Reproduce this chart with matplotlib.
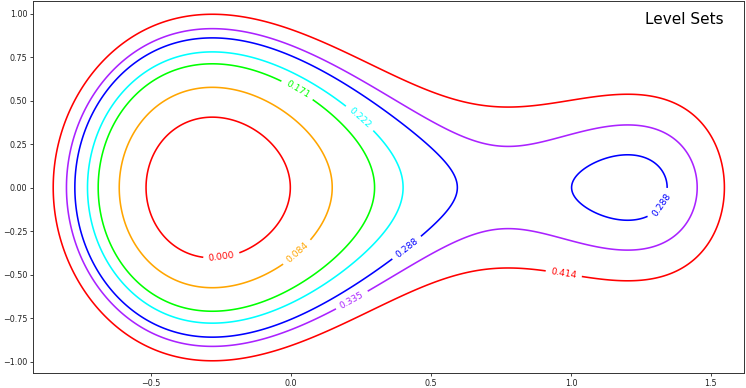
import numpy as np
import matplotlib
matplotlib.use("Agg")
import matplotlib.pyplot as plt

# Potential profile V(x) (H = y^2/2 + V(x))
v_x = [-0.849, -0.801, -0.772, -0.726, -0.688, -0.614, -0.517, -0.277, 0.000,
       0.148, 0.297, 0.398, 0.532, 0.589, 0.651, 0.776, 0.889, 1.001, 1.068,
       1.199, 1.342, 1.451, 1.548]
v_vals = [0.414, 0.335, 0.288, 0.222, 0.171, 0.084, 0.000, -0.081, 0.000,
          0.084, 0.171, 0.222, 0.271, 0.288, 0.295, 0.308, 0.303, 0.288, 0.279,
          0.270, 0.288, 0.335, 0.414]

levels = [0.000, 0.084, 0.171, 0.222, 0.288, 0.335, 0.414]
level_colors = ['red', 'orange', '#00ff00', 'cyan', 'blue', '#aa22ff', 'red']

label_pos = [(-0.248, -0.396), (0.024, -0.376), (0.024, 0.564), (0.25, 0.406),
             (0.413, -0.345), (1.325, -0.102), (0.217, -0.645), (0.975, -0.489)]

title = "Level Sets"

coef = np.polyfit(v_x, v_vals, 8)
xs = np.linspace(-0.93, 1.63, 700)
ys = np.linspace(-1.08, 1.08, 500)
X, Y = np.meshgrid(xs, ys)
Z = Y ** 2 / 2 + np.polyval(coef, X)

fig = plt.figure(figsize=(7.46, 3.88), dpi=100)
ax = fig.add_axes([33 / 746, 15 / 388, 711 / 746, 372 / 388])
cs = ax.contour(X, Y, Z, levels=levels, colors=level_colors, linewidths=1.15)
ax.clabel(cs, levels, inline=True, fmt='%.3f', fontsize=6.6, manual=label_pos)
ax.set_xlim(-0.921, 1.618)
ax.set_ylim(-1.066, 1.072)
ax.set_xticks([-0.5, 0.0, 0.5, 1.0, 1.5])
ax.set_yticks([-1.0, -0.75, -0.5, -0.25, 0.0, 0.25, 0.5, 0.75, 1.0])
ax.tick_params(labelsize=5.8, length=2, width=0.6, pad=2, colors='#222222')
for s in ax.spines.values():
    s.set_linewidth(0.7)
    s.set_color('#333333')
ax.text(0.972, 0.97, title, transform=ax.transAxes, ha='right', va='top', fontsize=11)
fig.savefig("out.png", dpi=100)
